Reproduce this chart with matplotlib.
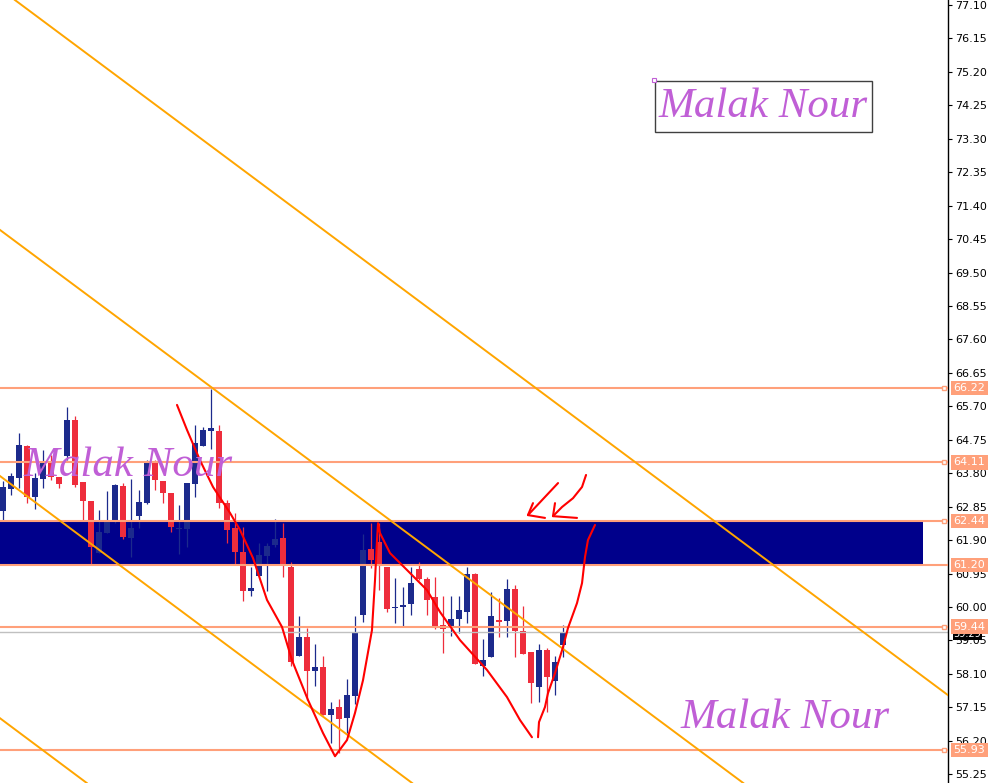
import numpy as np
import matplotlib
matplotlib.use("Agg")
import matplotlib.pyplot as plt
from matplotlib.patches import Rectangle

# OHLC candles (one bar per candle, oldest first)
opens = [62.72, 63.35, 63.66, 64.57, 63.12, 63.63, 64.09, 63.69, 64.29, 65.31,
         63.55, 63.01, 61.53, 62.10, 62.41, 63.43, 61.96, 62.58, 62.95, 64.09,
         63.58, 63.24, 62.21, 62.21, 63.49, 64.57, 65.00, 65.00, 62.95, 62.24,
         61.56, 60.45, 60.88, 61.45, 61.76, 61.96, 61.13, 58.60, 59.14, 58.18,
         58.29, 56.93, 57.16, 56.84, 57.47, 59.77, 61.64, 61.84, 61.13, 59.97,
         60.00, 60.08, 61.08, 60.79, 60.28, 59.49, 59.46, 59.66, 59.85, 60.93,
         58.32, 58.58, 59.63, 59.60, 60.51, 59.32, 58.72, 57.72, 58.78, 57.89,
         58.92]
highs = [63.58, 63.80, 64.94, 64.60, 63.80, 64.46, 64.32, 63.69, 65.68, 65.42,
         63.55, 63.01, 62.75, 63.29, 63.49, 63.52, 63.63, 63.32, 64.17, 64.17,
         63.58, 63.24, 62.89, 63.52, 65.17, 65.11, 66.19, 65.17, 63.04, 62.67,
         62.27, 61.13, 61.82, 61.82, 62.50, 62.38, 61.27, 59.74, 59.40, 58.95,
         58.61, 57.30, 57.38, 57.95, 59.74, 62.07, 62.38, 62.38, 61.13, 60.82,
         60.57, 61.13, 61.27, 60.85, 60.85, 60.31, 60.31, 60.31, 61.13, 60.96,
         59.09, 60.42, 60.25, 60.79, 60.62, 60.03, 58.72, 58.95, 58.83, 58.61,
         59.49]
lows = [62.44, 63.18, 63.38, 62.95, 62.78, 63.38, 63.61, 63.38, 64.17, 63.41,
        62.47, 61.19, 61.53, 62.10, 62.38, 61.93, 61.42, 62.24, 62.92, 63.32,
        62.95, 62.13, 61.50, 61.70, 63.12, 64.57, 64.49, 62.81, 61.82, 61.19,
        60.17, 60.31, 60.88, 60.45, 61.70, 60.85, 58.32, 58.60, 57.36, 57.75,
        56.93, 56.13, 55.85, 56.42, 57.24, 59.57, 61.10, 60.48, 59.85, 59.54,
        59.43, 59.77, 60.76, 59.77, 59.37, 58.69, 59.17, 59.26, 59.54, 58.38,
        58.04, 58.58, 59.14, 59.14, 58.58, 58.66, 57.27, 57.30, 57.01, 57.50,
        58.58]
closes = [63.41, 63.72, 64.60, 63.12, 63.66, 64.09, 63.69, 63.49, 65.31, 63.46,
          63.01, 61.70, 62.13, 62.47, 63.46, 61.98, 62.24, 62.98, 64.12, 63.61,
          63.24, 62.27, 62.24, 63.52, 64.66, 65.02, 65.08, 62.95, 62.18, 61.56,
          60.45, 60.53, 61.47, 61.73, 61.93, 61.19, 58.43, 59.14, 58.18, 58.29,
          56.93, 57.10, 56.82, 57.50, 59.29, 61.62, 61.33, 61.16, 59.94, 60.00,
          60.05, 60.68, 60.79, 60.20, 59.43, 59.37, 59.66, 59.91, 60.93, 58.38,
          58.49, 59.74, 59.57, 60.51, 59.32, 58.66, 57.84, 58.78, 58.01, 58.44,
          59.29]

# horizontal levels and the supply zone
levels = [66.22, 64.11, 62.44, 61.20, 59.44, 55.93]
zone_low, zone_high, zone_end = 61.20, 62.44, 115.0
last_price = 59.29

# parallel channel lines, two anchor points each (bar, price)
channel = [((1.5, 77.24), (80.0, 63.95)),
           ((-0.375, 70.71), (26.0, 66.25)),
           ((-0.375, 63.72), (50.9, 55.04)),
           ((-0.375, 56.84), (10.0, 55.08))]

# hand drawn red curves (bar, price)
curve1_x = [21.75, 23.0, 24.62, 26.25, 28.38, 29.62, 31.25, 33.0, 34.88, 36.12,
            38.12, 40.0, 41.5, 43.0, 44.0, 45.0, 46.12, 46.5, 46.75, 46.88,
            47.12, 48.38, 50.5, 53.0, 54.62, 57.12, 60.5, 63.0, 64.62, 66.12]
curve1_y = [65.74, 65.03, 64.17, 63.41, 62.67, 62.19, 61.39, 60.20, 59.43, 58.49,
            57.36, 56.42, 55.76, 56.22, 56.99, 57.92, 59.34, 60.76, 61.90, 62.38,
            62.10, 61.53, 61.05, 60.48, 59.86, 59.06, 58.21, 57.44, 56.79, 56.30]
curve2_x = [66.88, 67.0, 67.75, 68.12, 69.0, 70.0, 70.62, 71.75, 72.38, 72.75, 73.12, 74.0]
curve2_y = [56.30, 56.73, 57.16, 57.55, 58.12, 58.86, 59.40, 60.11, 60.68, 61.42, 61.90, 62.33]
arrow1_x = [69.38, 65.62]
arrow1_y = [63.52, 62.61]
arrow1_head_x = [66.25, 65.62, 67.75]
arrow1_head_y = [62.95, 62.61, 62.53]
arrow2_x = [72.88, 72.38, 71.25, 69.88, 68.75]
arrow2_y = [63.75, 63.41, 63.09, 62.84, 62.58]
arrow2_head_x = [69.0, 68.75, 71.75]
arrow2_head_y = [62.95, 62.58, 62.53]

yticks = np.round(np.arange(55.25, 77.11, 0.95), 2)

BULL = '#1c2a8c'
BEAR = '#ee2d3c'
LEVEL = '#ffa07a'
ORANGE = '#ffa500'
PURPLE = '#c05fd6'

fig = plt.figure(figsize=(9.9, 7.83), dpi=100)
ax = fig.add_axes([0, 0, 948 / 990, 1])
ax.set_xlim(-0.375, 118.125)
ax.set_ylim(55.0, 77.242)

# zone
ax.add_patch(Rectangle((-0.375, zone_low), zone_end + 0.375, zone_high - zone_low,
                       facecolor='#00008b', edgecolor='none', zorder=1))

# candles
x = np.arange(len(opens))
for i in x:
    o, h, l, c = opens[i], highs[i], lows[i], closes[i]
    col = BULL if c >= o else BEAR
    ax.vlines(i, l, h, color=col, lw=0.9, zorder=2)
    ax.add_patch(Rectangle((i - 0.36, min(o, c)), 0.72, max(abs(c - o), 0.03),
                           facecolor=col, edgecolor='none', zorder=2))

# current price line
ax.axhline(last_price, color='#c0c0c0', lw=1, zorder=2)

# levels
for lv in levels:
    ax.axhline(lv, color=LEVEL, lw=1.5, zorder=3)

# channel
for p1, p2 in channel:
    ax.axline(p1, p2, color=ORANGE, lw=1.4, zorder=4)

# red drawings
for xs, ys in [(curve1_x, curve1_y), (curve2_x, curve2_y), (arrow1_x, arrow1_y),
               (arrow1_head_x, arrow1_head_y), (arrow2_x, arrow2_y),
               (arrow2_head_x, arrow2_head_y)]:
    ax.plot(xs, ys, color='red', lw=1.5, zorder=5, solid_capstyle='round',
            solid_joinstyle='round')

# watermarks
wm = dict(family='Liberation Serif', style='italic', fontsize=31, color=PURPLE,
          ha='center', va='center', zorder=6)
ax.text(95.0, 74.20, 'Malak Nour', **wm)
ax.text(15.6, 64.00, 'Malak Nour', **wm)
ax.text(97.75, 56.84, 'Malak Nour', **wm)
ax.add_patch(Rectangle((81.5, 73.49), 27.1, 1.45, facecolor='none',
                       edgecolor='#404040', lw=1, zorder=6))
ax.plot([81.4], [74.97], marker='s', ms=3, mfc='white', mec=PURPLE, mew=0.8, zorder=6)

# right price axis
for s in ['left', 'top', 'bottom']:
    ax.spines[s].set_visible(False)
ax.spines['right'].set_color('black')
ax.spines['right'].set_linewidth(1)
ax.set_xticks([])
ax.yaxis.tick_right()
ax.set_yticks(yticks)
ax.set_yticklabels(['%.2f' % t for t in yticks])
ax.tick_params(axis='y', direction='out', length=3, width=0.8, pad=2,
               labelsize=8, colors='black')

ax.annotate('%.2f' % last_price, xy=(1.0, last_price), xycoords=('axes fraction', 'data'),
            xytext=(4, -1.5), textcoords='offset points', ha='left', va='center',
            fontsize=7, color='white', annotation_clip=False, zorder=7,
            bbox=dict(boxstyle='square,pad=0.1', fc='black', ec='none'))
for lv in levels:
    ax.annotate('%.2f' % lv, xy=(1.0, lv), xycoords=('axes fraction', 'data'),
                xytext=(4, 0), textcoords='offset points', ha='left', va='center',
                fontsize=8, color='white', annotation_clip=False, zorder=8,
                bbox=dict(boxstyle='square,pad=0.2', fc=LEVEL, ec='none'))
    if lv != 61.20:
        ax.plot([117.6], [lv], marker='s', ms=3.5, mfc='white', mec=LEVEL,
                mew=1, zorder=8, clip_on=False)

fig.savefig('out.png', dpi=100)
